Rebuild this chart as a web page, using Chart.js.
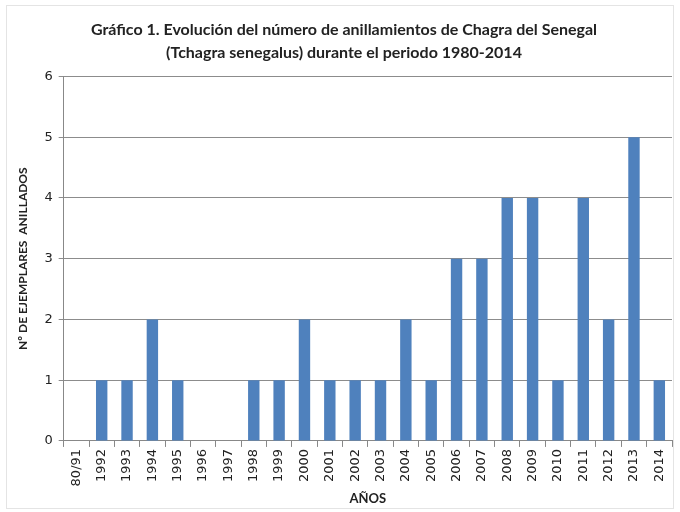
<!DOCTYPE html>
<html><head><meta charset="utf-8">
<script src="https://cdn.jsdelivr.net/npm/chart.js@4/dist/chart.umd.min.js"></script>
<style>html,body{margin:0;padding:0;background:#fff}canvas{display:block}</style>
</head><body>
<canvas id="c" width="680" height="512"></canvas>
<script>
const categories = ["80/91","1992","1993","1994","1995","1996","1997","1998","1999","2000","2001","2002","2003","2004","2005","2006","2007","2008","2009","2010","2011","2012","2013","2014"];
const anillados = [0,1,1,2,1,0,0,1,1,2,1,1,1,2,1,3,3,4,4,1,4,2,5,1];
const titleLines = ["Gráfico 1. Evolución del número de anillamientos de Chagra del Senegal","(Tchagra senegalus) durante el periodo 1980-2014"];
const yTitle = "Nº DE EJEMPLARES  ANILLADOS";
const xTitle = "AÑOS";

const frame = {
  id: 'frame',
  beforeDraw(chart) {
    const ctx = chart.ctx;
    ctx.save();
    ctx.fillStyle = '#fff';
    ctx.fillRect(0, 0, chart.width, chart.height);
    ctx.strokeStyle = '#e4e4e4';
    ctx.lineWidth = 1;
    ctx.strokeRect(6.5, 5.5, 667, 503);
    ctx.restore();
  }
};

new Chart(document.getElementById('c'), {
  type: 'bar',
  data: {
    labels: categories,
    datasets: [{
      data: anillados,
      backgroundColor: '#4F81BD',
      barPercentage: 0.45,
      categoryPercentage: 1.0
    }]
  },
  plugins: [frame],
  options: {
    responsive: false,
    animation: false,
    layout: { padding: { left: 16, right: 8, top: 8, bottom: 5 } },
    plugins: {
      legend: { display: false },
      tooltip: { enabled: false },
      title: {
        display: true,
        text: titleLines,
        color: '#222',
        font: { family: 'Lato', size: 16, weight: 'bold', lineHeight: 1.45 },
        padding: { top: 10, bottom: 12 }
      }
    },
    scales: {
      x: {
        offset: true,
        grid: { offset: true, drawOnChartArea: false, color: '#888', tickLength: 6 },
        border: { color: '#888' },
        ticks: { minRotation: 90, maxRotation: 90, color: '#222', font: { family: 'DejaVu Sans', size: 13 }, padding: 2, autoSkip: false },
        title: { display: true, text: xTitle, color: '#222', font: { family: 'Lato', size: 13, weight: 'bold' }, padding: { top: 3, bottom: 0 } }
      },
      y: {
        min: 0, max: 6,
        ticks: { stepSize: 1, color: '#222', font: { family: 'DejaVu Sans', size: 13 }, padding: 6 },
        grid: { color: '#8c8c8c', tickLength: 5 },
        border: { color: '#888' },
        title: { display: true, text: yTitle, color: '#222', font: { family: 'Lato', size: 12, weight: 'bold' }, padding: { top: 0, bottom: 8 } }
      }
    }
  }
});
</script>
</body></html>
